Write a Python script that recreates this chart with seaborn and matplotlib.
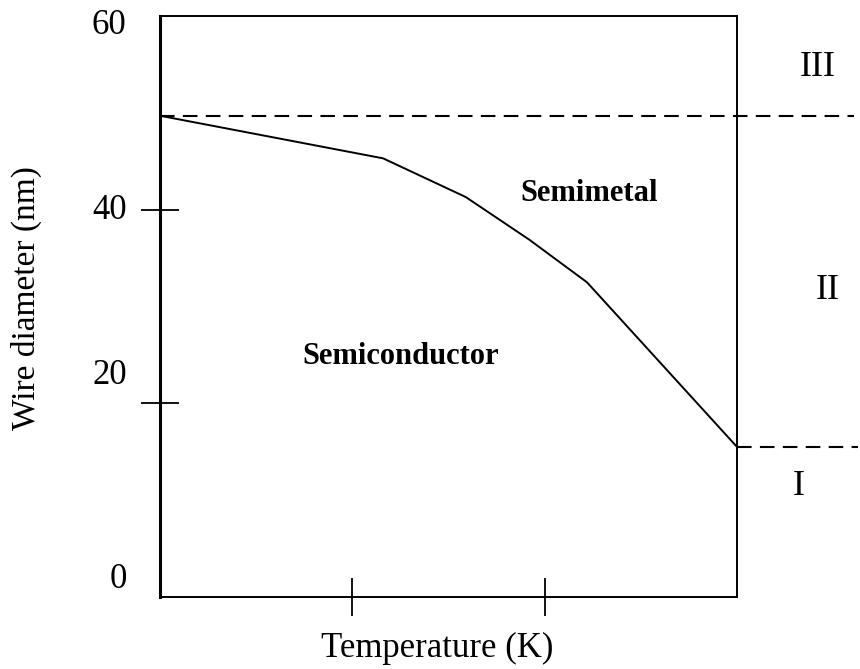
import matplotlib
matplotlib.use("Agg")
import matplotlib.pyplot as plt
import seaborn as sns
import pandas as pd

# ---- data ----
temperature = [0.0, 1.16, 1.59, 1.92, 2.22, 3.0]
diameter = [49.7, 45.3, 41.3, 36.9, 32.5, 15.5]
upper_boundary = 49.7          # nm, III / II boundary
lower_boundary = 15.5          # nm, II / I boundary
ytick_label_pos = [2.2, 23.3, 40.3, 59.4]
ytick_labels = ["0", "20", "40", "60"]
ytick_marks = [20, 40]
xtick_marks = [1, 2]
region_names = ["III", "II", "I"]
region_labels = ["Semimetal", "Semiconductor"]

sns.set_theme(style="white")
plt.rcParams["font.family"] = ["Liberation Serif", "DejaVu Serif"]
plt.rcParams["text.color"] = "black"
plt.rcParams["xtick.color"] = "black"
plt.rcParams["ytick.color"] = "black"
plt.rcParams["axes.labelcolor"] = "black"

fig = plt.figure(figsize=(8.6, 6.69), dpi=100)
ax = fig.add_axes([160/860, 1-597/669, 577/860, 581/669])

df = pd.DataFrame({"T": temperature, "d": diameter})
sns.lineplot(data=df, x="T", y="d", ax=ax, color="black", linewidth=1.4,
             sort=False, estimator=None)

# dashed region boundaries extending beyond the axes
ax.plot([0, 3.61], [upper_boundary, upper_boundary], color="black", lw=1.5,
        dashes=(7, 4), clip_on=False)
ax.plot([3.0, 3.63], [lower_boundary, lower_boundary], color="black", lw=1.5,
        dashes=(7, 4), clip_on=False)

ax.set_xlim(0, 3)
ax.set_ylim(0, 60)

for s in ax.spines.values():
    s.set_color("black")
    s.set_linewidth(1.4)
ax.spines["left"].set_linewidth(2.2)

ax.set_xticks(xtick_marks)
ax.set_xticklabels([])
ax.tick_params(axis="x", which="major", direction="inout", length=28,
               width=1.3, color="black", bottom=True)

ax.set_yticks(ytick_label_pos)
ax.set_yticklabels(ytick_labels, fontsize=25, color="black")
ax.tick_params(axis="y", which="major", length=0, pad=24, left=True)
ax.set_yticks(ytick_marks, minor=True)
ax.tick_params(axis="y", which="minor", direction="inout", length=28,
               width=1.3, color="black", left=True)

ax.set_xlabel("")
ax.set_ylabel("")
ax.text(-0.232, 0.515, "Wire diameter (nm)", transform=ax.transAxes,
        rotation=90, ha="center", va="center", fontsize=24, color="black")
ax.text(0.48, -0.088, "Temperature (K)", transform=ax.transAxes,
        ha="center", va="center", fontsize=25, color="black")

ax.text(2.23, 41.7, region_labels[0], ha="center", va="center",
        fontsize=22, fontweight="bold", color="black")
ax.text(1.25, 24.8, region_labels[1], ha="center", va="center",
        fontsize=22, fontweight="bold", color="black")

ax.text(3.42, 54.7, region_names[0], ha="center", va="center", fontsize=26,
        clip_on=False, color="black")
ax.text(3.47, 31.7, region_names[1], ha="center", va="center", fontsize=26,
        clip_on=False, color="black")
ax.text(3.32, 11.4, region_names[2], ha="center", va="center", fontsize=26,
        clip_on=False, color="black")

fig.savefig("out.png", dpi=100)
